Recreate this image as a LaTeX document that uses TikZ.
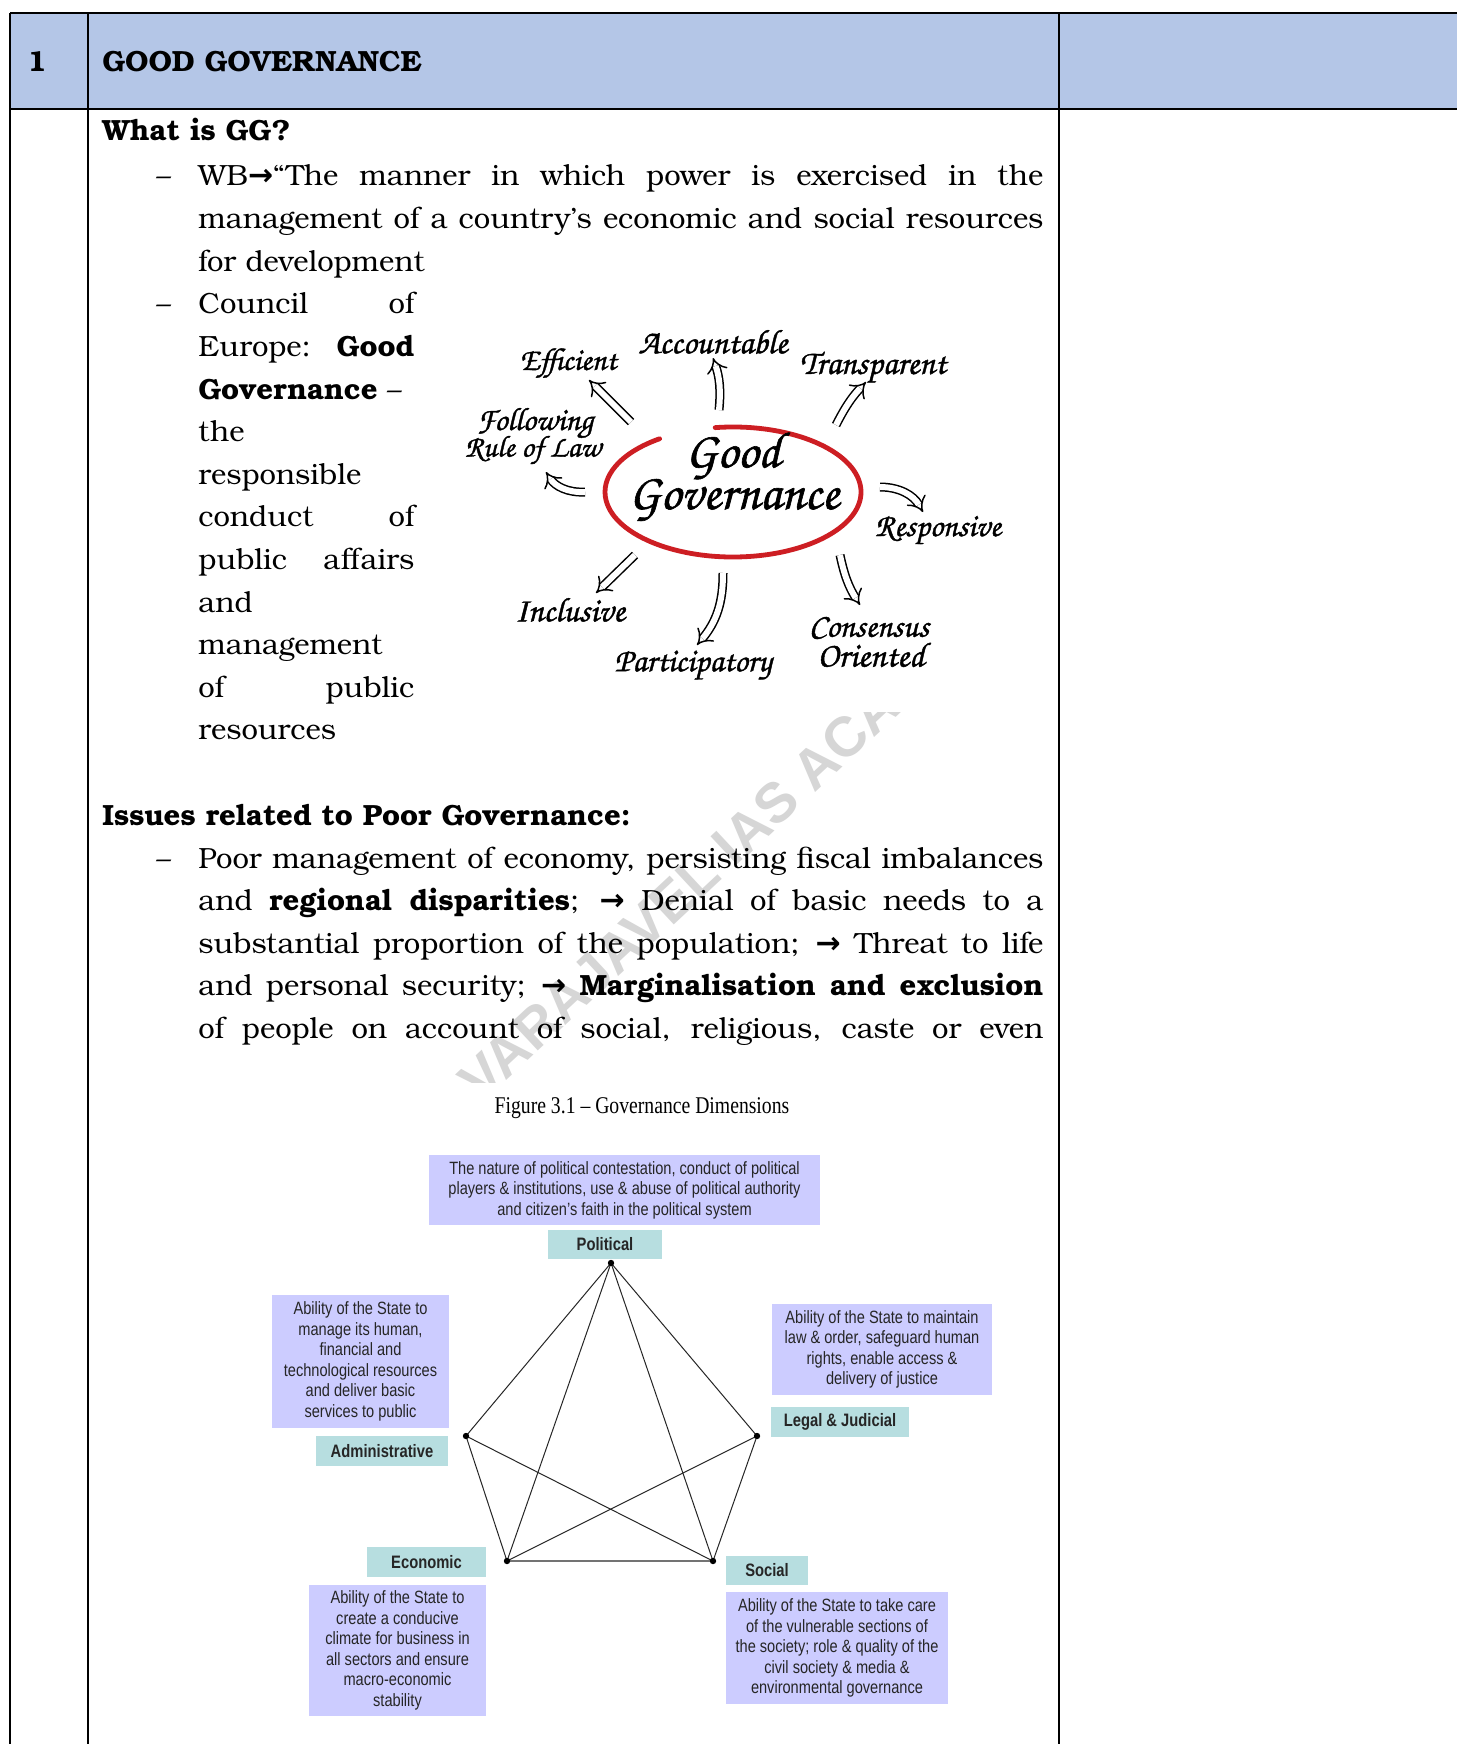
\documentclass[tikz,border=0pt]{standalone}
\usepackage{fontspec}
\usetikzlibrary{arrows.meta}
\newfontfamily\bonum{TeX Gyre Bonum}[Ligatures=TeX]
\newfontfamily\chorus{TeX Gyre Chorus}[FakeBold=1.2]
\newfontfamily\figsans{Liberation Sans}[FakeStretch=0.82]
\newfontfamily\figserif{Liberation Serif}[FakeStretch=0.82]
\newfontfamily\wmsans{Liberation Sans}
\newfontfamily\arrf{DejaVu Sans}
\newcommand\bkf{\bonum\fontsize{14.6}{17}\selectfont}
\newcommand\hwf{\chorus\bfseries}
\newcommand\jl[1]{\makebox[422.5pt][s]{#1}}
\newcommand\nl[1]{\makebox[108pt][s]{#1}}
\newcommand\hwt[2]{\resizebox{#1}{!}{#2}}
\newcommand\ra{{\arrf\bfseries\fontsize{15}{17}\selectfont →}}
\definecolor{hdr}{RGB}{180,198,231}
\definecolor{lav}{RGB}{204,204,255}
\definecolor{tealb}{RGB}{183,222,224}
\definecolor{ggred}{RGB}{205,30,35}
\definecolor{wmgray}{RGB}{214,214,214}
\begin{document}
\begin{tikzpicture}[x=0.5pt,y=-0.5pt,
 body/.style={font=\bkf,inner sep=0pt,anchor=base west},
 hw/.style={font=\hwf\fontsize{18}{20}\selectfont,inner sep=0pt},
 hol/.style={double=white,double distance=3pt,line width=0.75pt,-{Implies[scale=1.3]},black},
 tbl/.style={line width=1.2pt,black},
 desc/.style={fill=lav,font=\figsans\fontsize{8.9}{10.25}\selectfont,align=center,inner sep=0pt,text=black!85},
 lab/.style={fill=tealb,font=\figsans\bfseries\fontsize{9}{10}\selectfont,inner sep=0pt,text=black!85},
 gline/.style={line width=0.5pt,black!85},
 wm/.style={font=\wmsans\bfseries\fontsize{28}{28}\selectfont,text=wmgray,inner sep=0pt}]
\useasboundingbox (0,0) rectangle (1457,1744);
\fill[white] (0,0) rectangle (1457,1744);
\fill[hdr] (10,13) rectangle (1457,109);
% watermark
\begin{scope}
\clip (430,712) rectangle (1000,1082);
\node[wm,rotate=43,anchor=west] (wmk) at (468,1090) {VARAJAVEL IAS ACADEMY};
\end{scope}
% table lines
\draw[tbl] (10,13) -- (1457,13);
\draw[tbl] (10,109) -- (1457,109);
\draw[tbl] (10,13) -- (10,1744);
\draw[tbl] (88,13) -- (88,1744);
\draw[tbl] (1059,13) -- (1059,1744);
% header
\node[body] (num) at (27,72) {\textbf{1}};
\node[body] (head) at (102,72) {\textbf{GOOD GOVERNANCE}};
% what is GG
\node[body] (q1) at (102,141) {\textbf{What is GG?}};
\node[body] (d1) at (156,186) {–};
\node[body] (l1) at (198,186) {\jl{WB\ra“The manner in which power is exercised in the}};
\node[body] (l2) at (198,228.6) {\jl{management of a country’s economic and social resources}};
\node[body] (l3) at (198,271.2) {for development};
\node[body] (d2) at (156,313.8) {–};
\node[body] (c1) at (198,313.8) {\nl{Council of}};
\node[body] (c2) at (198,356.4) {\nl{Europe: \textbf{Good}}};
\node[body] (c3) at (198,399) {\textbf{Governance} –};
\node[body] (c4) at (198,441.6) {the};
\node[body] (c5) at (198,484.2) {responsible};
\node[body] (c6) at (198,526.8) {\nl{conduct of}};
\node[body] (c7) at (198,569.4) {\nl{public affairs}};
\node[body] (c8) at (198,612) {and};
\node[body] (c9) at (198,654.6) {management};
\node[body] (c10) at (198,697.2) {\nl{of public}};
\node[body] (c11) at (198,739.8) {resources};
% issues
\node[body] (q2) at (102,825) {\textbf{Issues related to Poor Governance:}};
\node[body] (d3) at (156,868) {–};
\node[body] (i1) at (198,868) {\jl{Poor management of economy, persisting fiscal imbalances}};
\node[body] (i2) at (198,910.6) {\jl{and \textbf{regional disparities}; \ra{} Denial of basic needs to a}};
\node[body] (i3) at (198,953.2) {\jl{substantial proportion of the population; \ra{} Threat to life}};
\node[body] (i4) at (198,995.8) {\jl{and personal security; \ra{} \textbf{Marginalisation and exclusion}}};
\node[body] (i5) at (198,1038.4) {\jl{of people on account of social, religious, caste or even}};
% ---- Good governance sketch
\draw[ggred,line width=2.4pt,line cap=round] (733,492) ++({128*cos(262)},{65*sin(262)}) arc[start angle=262,end angle=595,x radius=128,y radius=65];
\node[hw] (good) at (733,456) {\hwt{47.5pt}{Good}};
\node[hw] (gov) at (734,500) {\hwt{105pt}{Governance}};
\node[hw] (eff) at (568,363) {\hwt{48.5pt}{Efficient}};
\node[hw] (acc) at (713,342) {\hwt{74.5pt}{Accountable}};
\node[hw] (tra) at (873,367) {\hwt{73pt}{Transparent}};
\node[hw] (fol) at (535,423) {\hwt{58pt}{Following}};
\node[hw] (rul) at (533,450) {\hwt{68pt}{Rule of Law}};
\node[hw] (res) at (938,530) {\hwt{63pt}{Responsive}};
\node[hw] (inc) at (570,610) {\hwt{55pt}{Inclusive}};
\node[hw] (par) at (693,665) {\hwt{78.5pt}{Participatory}};
\node[hw] (con) at (869,628) {\hwt{60pt}{Consensus}};
\node[hw] (ori) at (871,655) {\hwt{53.5pt}{Oriented}};
\coordinate (aEs) at (631,422); \coordinate (aEe) at (589,380);
\coordinate (aAs) at (719,410); \coordinate (aAe) at (713,358);
\coordinate (aTs) at (836,425); \coordinate (aTe) at (866,382);
\coordinate (aRs) at (585,492); \coordinate (aRe) at (546,472);
\coordinate (aPs) at (880,487); \coordinate (aPe) at (923,512);
\coordinate (aIs) at (635,555); \coordinate (aIe) at (596,593);
\coordinate (aQs) at (723,573); \coordinate (aQe) at (697,645);
\coordinate (aCs) at (840,555); \coordinate (aCe) at (860,605);
\draw[hol] (aEs) -- (aEe);
\draw[hol] (aAs) to[bend right=12] (aAe);
\draw[hol] (aTs) to[bend left=8] (aTe);
\draw[hol] (aRs) to[bend left=30] (aRe);
\draw[hol] (aPs) to[bend left=30] (aPe);
\draw[hol] (aIs) -- (aIe);
\draw[hol] (aQs) to[bend left=20] (aQe);
\draw[hol] (aCs) to[bend right=10] (aCe);
% ---- Figure 3.1
\node[font=\figserif\fontsize{12}{14}\selectfont,inner sep=0pt] (ftitle) at (642,1108) {Figure 3.1 – Governance Dimensions};
\node[desc,minimum width=195.5pt,minimum height=35pt] (pdesc) at (624.5,1190) {The nature of political contestation, conduct of political\\players \& institutions, use \& abuse of political authority\\and citizen’s faith in the political system};
\node[lab,minimum width=57pt,minimum height=14.5pt] (plab) at (605,1244.5) {Political};
\node[desc,minimum width=88.5pt,minimum height=66.5pt] (adesc) at (360.5,1361.5) {Ability of the State to\\manage its human,\\financial and\\technological resources\\and deliver basic\\services to public};
\node[lab,minimum width=66pt,minimum height=15pt] (alab) at (382,1451) {Administrative};
\node[desc,minimum width=110pt,minimum height=45.5pt] (ldesc) at (882,1349.5) {Ability of the State to maintain\\law \& order, safeguard human\\rights, enable access \&\\delivery of justice};
\node[lab,minimum width=69pt,minimum height=15pt] (llab) at (840,1422) {Legal \& Judicial};
\node[lab,minimum width=59.5pt,minimum height=15pt] (elab) at (426.5,1562) {Economic};
\node[desc,minimum width=88.5pt,minimum height=65.5pt] (edesc) at (397.5,1650.5) {Ability of the State to\\create a conducive\\climate for business in\\all sectors and ensure\\macro-economic\\stability};
\node[lab,minimum width=41pt,minimum height=14.5pt] (slab) at (767,1570.5) {Social};
\node[desc,minimum width=111pt,minimum height=56pt] (sdesc) at (837,1648) {Ability of the State to take care\\of the vulnerable sections of\\the society; role \& quality of the\\civil society \& media \&\\environmental governance};
\coordinate (P) at (611,1263);
\coordinate (A) at (466,1436);
\coordinate (L) at (757,1436);
\coordinate (E) at (507,1561);
\coordinate (S) at (713,1561);
\draw[gline] (P) -- (A);
\draw[gline] (P) -- (L);
\draw[gline] (P) -- (E);
\draw[gline] (P) -- (S);
\draw[gline] (A) -- (E);
\draw[gline] (A) -- (S);
\draw[gline] (L) -- (S);
\draw[gline] (L) -- (E);
\draw[line width=1pt,black!55] (E) -- (S);
\foreach \v in {P,A,L,E,S} \fill[black] (\v) circle[radius=3.2];
\end{tikzpicture}
\end{document}
